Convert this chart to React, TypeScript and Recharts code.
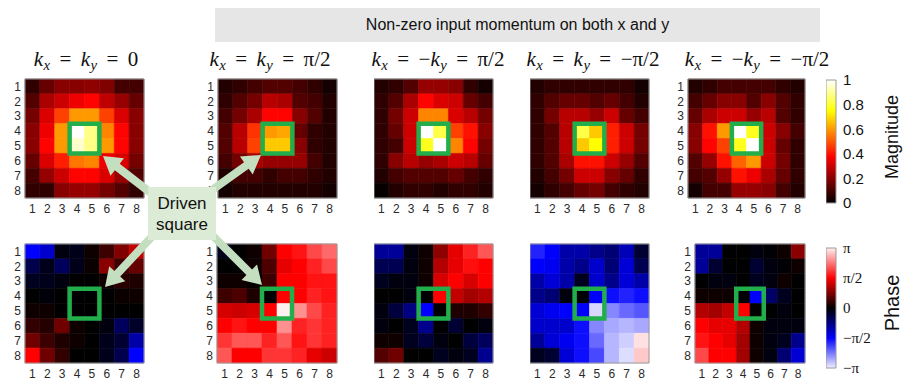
import React from 'react';
import { ScatterChart, Scatter, XAxis, YAxis, ReferenceArea } from 'recharts';

const colTicks = [1, 2, 3, 4, 5, 6, 7, 8];
const rowTicks = [1, 2, 3, 4, 5, 6, 7, 8];

// Magnitude (0..1), rows top->bottom, columns left->right
const magK0 = [
  [0.07, 0.15, 0.2, 0.2, 0.21, 0.19, 0.1, 0.1],
  [0.12, 0.25, 0.3, 0.35, 0.38, 0.28, 0.22, 0.15],
  [0.17, 0.32, 0.47, 0.6, 0.6, 0.47, 0.32, 0.2],
  [0.2, 0.35, 0.6, 1.0, 0.88, 0.57, 0.38, 0.2],
  [0.2, 0.38, 0.6, 0.95, 0.88, 0.6, 0.38, 0.2],
  [0.15, 0.32, 0.42, 0.55, 0.57, 0.35, 0.32, 0.17],
  [0.1, 0.22, 0.3, 0.38, 0.38, 0.32, 0.22, 0.12],
  [0.07, 0.07, 0.2, 0.22, 0.22, 0.17, 0.12, 0.07],
];
const magPP = [
  [0.05, 0.07, 0.1, 0.12, 0.12, 0.1, 0.07, 0.03],
  [0.07, 0.12, 0.17, 0.27, 0.25, 0.12, 0.1, 0.05],
  [0.1, 0.17, 0.25, 0.38, 0.38, 0.2, 0.12, 0.05],
  [0.12, 0.27, 0.45, 0.6, 0.62, 0.15, 0.07, 0.05],
  [0.12, 0.27, 0.47, 0.67, 0.67, 0.2, 0.07, 0.05],
  [0.1, 0.17, 0.25, 0.22, 0.22, 0.22, 0.1, 0.05],
  [0.05, 0.1, 0.1, 0.07, 0.1, 0.1, 0.07, 0.05],
  [0.03, 0.05, 0.05, 0.05, 0.05, 0.05, 0.05, 0.03],
];
const magPM = [
  [0.05, 0.07, 0.12, 0.22, 0.22, 0.2, 0.07, 0.03],
  [0.07, 0.12, 0.25, 0.38, 0.32, 0.3, 0.15, 0.1],
  [0.07, 0.17, 0.3, 0.57, 0.57, 0.32, 0.27, 0.17],
  [0.07, 0.15, 0.3, 1.0, 0.82, 0.47, 0.4, 0.2],
  [0.07, 0.1, 0.3, 0.78, 1.0, 0.57, 0.38, 0.17],
  [0.07, 0.2, 0.27, 0.22, 0.25, 0.3, 0.27, 0.15],
  [0.05, 0.1, 0.12, 0.12, 0.12, 0.15, 0.1, 0.07],
  [0.01, 0.05, 0.07, 0.07, 0.05, 0.07, 0.07, 0.05],
];
const magMM = [
  [0.05, 0.07, 0.07, 0.07, 0.07, 0.07, 0.07, 0.03],
  [0.07, 0.12, 0.15, 0.15, 0.12, 0.15, 0.1, 0.05],
  [0.07, 0.17, 0.27, 0.27, 0.22, 0.3, 0.15, 0.1],
  [0.07, 0.12, 0.27, 0.82, 0.67, 0.42, 0.3, 0.17],
  [0.07, 0.12, 0.27, 0.67, 0.75, 0.42, 0.3, 0.17],
  [0.07, 0.12, 0.25, 0.4, 0.4, 0.3, 0.22, 0.12],
  [0.05, 0.1, 0.17, 0.3, 0.3, 0.2, 0.15, 0.07],
  [0.03, 0.07, 0.1, 0.15, 0.17, 0.1, 0.07, 0.05],
];
const magMP = [
  [0.05, 0.07, 0.1, 0.1, 0.1, 0.1, 0.07, 0.05],
  [0.1, 0.15, 0.2, 0.2, 0.12, 0.2, 0.12, 0.07],
  [0.15, 0.25, 0.3, 0.3, 0.22, 0.27, 0.12, 0.07],
  [0.2, 0.4, 0.6, 1.0, 0.78, 0.3, 0.2, 0.1],
  [0.2, 0.38, 0.47, 0.78, 1.0, 0.3, 0.15, 0.07],
  [0.12, 0.22, 0.4, 0.52, 0.6, 0.3, 0.17, 0.07],
  [0.1, 0.12, 0.22, 0.4, 0.35, 0.25, 0.15, 0.07],
  [0.03, 0.1, 0.1, 0.22, 0.22, 0.2, 0.1, 0.05],
];

// Phase in units of pi (-1..1)
const phaseK0 = [
  [-0.5, -0.4, -0.03, -0.05, 0.03, 0.12, 0.25, 0.38],
  [-0.15, -0.05, -0.18, -0.05, 0.02, 0.27, 0.12, 0.2],
  [-0.06, -0.05, -0.03, 0, 0, 0.03, 0.08, 0.06],
  [0, -0.02, 0, 0, 0, 0, 0.02, 0.03],
  [0.03, 0.03, 0, 0, 0, 0, 0, 0],
  [0.1, 0.07, 0.22, 0.03, 0, -0.03, -0.18, -0.08],
  [0.22, 0.12, 0.06, 0.03, 0, -0.05, -0.1, -0.33],
  [0.5, 0.22, 0.1, 0, 0, -0.05, -0.15, -0.5],
];
const phasePP = [
  [-0.05, 0, 0.03, 0.22, 0.5, 0.54, 0.65, 0.72],
  [0, 0, 0.03, 0.15, 0.45, 0.5, 0.57, 0.65],
  [0.03, 0.03, 0.01, 0.12, 0.5, 0.5, 0.54, 0.54],
  [0.12, 0.15, 0.06, 0, 0.5, 0.5, 0.57, 0.54],
  [0.42, 0.4, 0.42, 0.5, 1.0, 0.8, 0.65, 0.57],
  [0.5, 0.54, 0.5, 0.5, 0.8, 0.57, 0.61, 0.57],
  [0.61, 0.68, 0.68, 0.57, 0.68, 0.54, 0.61, 0.57],
  [0.68, 0.5, 0.5, 0.61, 0.61, 0.57, 0.45, 0.4],
];
const phasePM = [
  [-0.3, -0.3, -0.03, 0.03, 0.28, 0.45, 0.57, 0.68],
  [-0.16, -0.16, -0.03, 0.03, 0.35, 0.45, 0.53, 0.5],
  [-0.06, -0.03, -0.03, 0.03, 0.42, 0.5, 0.42, 0.5],
  [0, 0, -0.03, 0, 0.5, 0.38, 0.32, 0.35],
  [-0.03, -0.12, -0.25, -0.5, 0, 0.06, 0.06, 0.1],
  [-0.03, 0, -0.06, -0.28, 0, -0.1, 0, -0.03],
  [0.03, 0.03, -0.06, -0.12, -0.03, 0, -0.12, -0.18],
  [0.16, 0.22, 0, 0, -0.06, -0.03, -0.06, -0.28],
];
const phaseMM = [
  [-0.57, -0.5, -0.33, -0.33, -0.27, -0.23, -0.36, -0.1],
  [-0.5, -0.47, -0.33, -0.27, -0.4, -0.23, -0.42, -0.16],
  [-0.33, -0.42, -0.33, -0.06, -0.4, -0.27, -0.42, -0.33],
  [-0.27, -0.23, -0.03, 0, -0.5, -0.53, -0.57, -0.53],
  [-0.42, -0.47, -0.5, -0.5, -0.95, -0.78, -0.72, -0.68],
  [-0.4, -0.4, -0.4, -0.53, -0.78, -0.85, -0.88, -0.85],
  [-0.3, -0.42, -0.47, -0.53, -0.72, -0.88, -0.93, 0.97],
  [-0.06, -0.1, -0.42, -0.53, -0.65, -0.88, -0.96, 0.92],
];
const phaseMP = [
  [-0.3, -0.3, 0, 0, -0.03, -0.01, 0.03, 0.27],
  [-0.3, -0.1, 0, 0, -0.1, -0.03, -0.01, 0.03],
  [0, -0.03, -0.03, 0, -0.06, -0.03, 0.03, 0],
  [0.03, 0.03, 0.03, 0, -0.5, -0.2, -0.06, 0],
  [0.35, 0.32, 0.38, 0.5, 0, 0, -0.03, 0],
  [0.5, 0.45, 0.45, 0.35, 0.03, -0.03, -0.03, -0.03],
  [0.54, 0.5, 0.45, 0.32, 0.03, -0.03, -0.06, -0.27],
  [0.65, 0.5, 0.5, 0.32, 0.03, -0.03, -0.22, -0.42],
];

const magTicks = [0, 0.2, 0.4, 0.6, 0.8, 1];
const phaseTicks = [-1, -0.5, 0, 0.5, 1];
const phaseTickLabels: Record<string, string> = { '-1': '−π', '-0.5': '−π/2', '0': '0', '0.5': 'π/2', '1': 'π' };

const bannerText = 'Non-zero input momentum on both x and y';
const drivenText = ['Driven', 'square'];

const SANS = '"Liberation Sans", Arial, Helvetica, sans-serif';
const SERIF = '"Liberation Serif", "Times New Roman", serif';

const clamp = (v: number) => Math.max(0, Math.min(1, v));
const hex = (r: number, g: number, b: number) =>
  '#' + [r, g, b].map((c) => Math.round(clamp(c) * 255).toString(16).padStart(2, '0')).join('');

function hot(v: number) {
  return hex(v / 0.375, (v - 0.375) / 0.375, (v - 0.75) / 0.25);
}
function phaseColor(t: number) {
  const a = Math.abs(t);
  const main = a <= 0.5 ? a / 0.5 : 1;
  const other = a <= 0.5 ? 0 : (a - 0.5) * 2 * 0.94;
  return t >= 0 ? hex(main, other, other) : hex(other, other, main);
}

type HeatProps = {
  values: number[][];
  color: (v: number) => string;
  left: number;
  top: number;
  w: number;
  h: number;
  showY: boolean;
};

function Heatmap({ values, color, left, top, w, h, showY }: HeatProps) {
  const yw = showY ? 16 : 0;
  const cells: { x: number; y: number; v: number }[] = [];
  values.forEach((row, ri) => row.forEach((v, ci) => cells.push({ x: ci + 1, y: ri + 1, v })));
  const tickStyle = { fontSize: 12, fill: '#2a2a2a', fontFamily: SANS };
  return (
    <div style={{ position: 'absolute', left: left - yw, top: top - 2 }}>
      <ScatterChart width={w + yw + 2} height={h + 24} margin={{ top: 2, right: 2, bottom: 0, left: 0 }}>
        <XAxis
          type="number"
          dataKey="x"
          domain={[0.5, 8.5]}
          ticks={colTicks}
          interval={0}
          tickLine={false}
          axisLine={false}
          height={22}
          tickSize={4}
          tickMargin={2}
          tick={tickStyle}
          allowDataOverflow
        />
        <YAxis
          type="number"
          dataKey="y"
          domain={[0.5, 8.5]}
          reversed
          ticks={rowTicks}
          interval={0}
          tickLine={false}
          axisLine={false}
          width={yw}
          hide={!showY}
          tickSize={2}
          tickMargin={2}
          tick={tickStyle}
          allowDataOverflow
        />
        {cells.map((c) => (
          <ReferenceArea
            key={`${c.x}-${c.y}`}
            x1={c.x - 0.5}
            x2={c.x + 0.5}
            y1={c.y - 0.5}
            y2={c.y + 0.5}
            fill={color(c.v)}
            fillOpacity={1}
            stroke={color(c.v)}
            strokeWidth={0.6}
          />
        ))}
        <ReferenceArea x1={0.5} x2={8.5} y1={0.5} y2={8.5} fill="none" stroke="#9a9a9a" strokeWidth={1} />
        <ReferenceArea x1={3.5} x2={5.5} y1={3.5} y2={5.5} fill="none" stroke="#22ae4a" strokeWidth={4.5} />
        <Scatter data={cells} isAnimationActive={false} shape={() => <g />} />
      </ScatterChart>
    </div>
  );
}

type BarProps = {
  left: number;
  top: number;
  h: number;
  domain: [number, number];
  ticks: number[];
  fmt: (v: number) => string;
  grad: string;
  stops: { o: number; c: string }[];
  font: string;
  fontSize: number;
};

function Colorbar({ left, top, h, domain, ticks, fmt, grad, stops, font, fontSize }: BarProps) {
  return (
    <div style={{ position: 'absolute', left, top: top - 10 }}>
      <ScatterChart width={62} height={h + 20} margin={{ top: 10, right: 0, bottom: 10, left: 0 }}>
        <defs>
          <linearGradient id={grad} x1="0" y1="1" x2="0" y2="0">
            {stops.map((s) => (
              <stop key={s.o} offset={s.o} stopColor={s.c} />
            ))}
          </linearGradient>
        </defs>
        <XAxis type="number" dataKey="x" domain={[0, 1]} hide allowDataOverflow />
        <YAxis
          type="number"
          dataKey="y"
          orientation="right"
          domain={domain}
          ticks={ticks}
          interval={0}
          width={52}
          tickLine={false}
          axisLine={false}
          tickSize={5}
          tickMargin={2}
          tickFormatter={fmt}
          tick={{ fontSize, fill: '#111', fontFamily: font }}
          allowDataOverflow
        />
        <ReferenceArea x1={0} x2={1} y1={domain[0]} y2={domain[1]} fill={`url(#${grad})`} fillOpacity={1} stroke="#9a9a9a" strokeWidth={1} />
        <Scatter data={[{ x: 0.5, y: domain[0] }]} isAnimationActive={false} shape={() => <g />} />
      </ScatterChart>
    </div>
  );
}

const topY = 79;
const botY = 244;
const cellH = 119;
const topPanels = [
  { x: 25, w: 119, showY: true, values: magK0 },
  { x: 218, w: 119, showY: true, values: magPP },
  { x: 374, w: 119, showY: false, values: magPM },
  { x: 530, w: 119, showY: false, values: magMM },
  { x: 688, w: 117, showY: true, values: magMP },
];
const botPanels = [
  { x: 25, w: 119, showY: true, values: phaseK0 },
  { x: 217, w: 120, showY: true, values: phasePP },
  { x: 374, w: 119, showY: false, values: phasePM },
  { x: 530, w: 119, showY: false, values: phaseMM },
  { x: 695, w: 110, showY: true, values: phaseMP },
];

const Sub = ({ c }: { c: string }) => (
  <span style={{ fontSize: '0.7em', fontStyle: 'italic', position: 'relative', top: '0.3em', marginLeft: '0.03em' }}>{c}</span>
);
const K = ({ c }: { c: string }) => (
  <>
    <i>k</i>
    <Sub c={c} />
  </>
);
const Eq = () => <span style={{ margin: '0 0.45em' }}>=</span>;

const titles = [
  { cx: 86, node: (<><K c="x" /><Eq /><K c="y" /><Eq />0</>) },
  { cx: 270, node: (<><K c="x" /><Eq /><K c="y" /><Eq />π/2</>) },
  { cx: 438, node: (<><K c="x" /><Eq />−<K c="y" /><Eq />π/2</>) },
  { cx: 593, node: (<><K c="x" /><Eq /><K c="y" /><Eq />−π/2</>) },
  { cx: 757, node: (<><K c="x" /><Eq />−<K c="y" /><Eq />−π/2</>) },
];

function Arrow({ x1, y1, x2, y2, color }: { x1: number; y1: number; x2: number; y2: number; color: string }) {
  const dx = x2 - x1;
  const dy = y2 - y1;
  const L = Math.hypot(dx, dy);
  const ux = dx / L;
  const uy = dy / L;
  const nx = -uy;
  const ny = ux;
  const hl = 18;
  const hw = 11;
  const sw = 4;
  const bx = x2 - ux * hl;
  const by = y2 - uy * hl;
  const pts = [
    [x1 + nx * sw, y1 + ny * sw],
    [bx + nx * sw, by + ny * sw],
    [bx + nx * hw, by + ny * hw],
    [x2, y2],
    [bx - nx * hw, by - ny * hw],
    [bx - nx * sw, by - ny * sw],
    [x1 - nx * sw, y1 - ny * sw],
  ]
    .map((p) => p.join(','))
    .join(' ');
  return <polygon points={pts} fill={color} />;
}

const arrowColor = '#c3dfbf';
const arrows = [
  { x1: 160, y1: 200, x2: 103, y2: 156 },
  { x1: 205, y1: 195, x2: 261, y2: 155 },
  { x1: 160, y1: 228, x2: 105, y2: 287 },
  { x1: 205, y1: 228, x2: 262, y2: 285 },
];

export default function App() {
  return (
    <div style={{ position: 'absolute', left: 0, top: 0, width: 904, height: 381, background: '#fff', overflow: 'hidden' }}>
      <div
        style={{
          position: 'absolute',
          left: 215,
          top: 8,
          width: 605,
          height: 34,
          background: '#e6e6e6',
          fontFamily: SANS,
          fontSize: 16,
          color: '#111',
          display: 'flex',
          alignItems: 'center',
          justifyContent: 'center',
        }}
      >
        {bannerText}
      </div>
      {titles.map((t, i) => (
        <div
          key={i}
          style={{
            position: 'absolute',
            left: t.cx,
            top: 48,
            transform: 'translateX(-50%)',
            whiteSpace: 'nowrap',
            fontFamily: SERIF,
            fontSize: 21,
            color: '#111',
            lineHeight: '22px',
          }}
        >
          {t.node}
        </div>
      ))}
      {topPanels.map((p, i) => (
        <Heatmap key={`t${i}`} values={p.values} color={hot} left={p.x} top={topY} w={p.w} h={cellH} showY={p.showY} />
      ))}
      {botPanels.map((p, i) => (
        <Heatmap key={`b${i}`} values={p.values} color={phaseColor} left={p.x} top={botY} w={p.w} h={cellH} showY={p.showY} />
      ))}
      <Colorbar
        left={826}
        top={80}
        h={123}
        domain={[0, 1]}
        ticks={magTicks}
        fmt={(v) => String(v)}
        grad="magGrad"
        stops={[
          { o: 0, c: '#000000' },
          { o: 0.375, c: '#ff0000' },
          { o: 0.75, c: '#ffff00' },
          { o: 1, c: '#ffffff' },
        ]}
        font={SANS}
        fontSize={15}
      />
      <Colorbar
        left={826}
        top={248}
        h={120}
        domain={[-1, 1]}
        ticks={phaseTicks}
        fmt={(v) => phaseTickLabels[String(v)]}
        grad="phaseGrad"
        stops={[
          { o: 0, c: '#efefff' },
          { o: 0.25, c: '#0000ff' },
          { o: 0.5, c: '#000000' },
          { o: 0.75, c: '#ff0000' },
          { o: 1, c: '#ffefef' },
        ]}
        font={SERIF}
        fontSize={15}
      />
      <div
        style={{
          position: 'absolute',
          left: 892,
          top: 137,
          transform: 'translate(-50%, -50%) rotate(-90deg)',
          fontFamily: SANS,
          fontSize: 18,
          color: '#111',
          whiteSpace: 'nowrap',
        }}
      >
        Magnitude
      </div>
      <div
        style={{
          position: 'absolute',
          left: 892,
          top: 303,
          transform: 'translate(-50%, -50%) rotate(-90deg)',
          fontFamily: SANS,
          fontSize: 20,
          color: '#111',
          whiteSpace: 'nowrap',
        }}
      >
        Phase
      </div>
      <svg width={904} height={381} style={{ position: 'absolute', left: 0, top: 0, pointerEvents: 'none' }}>
        {arrows.map((a, i) => (
          <Arrow key={i} {...a} color={arrowColor} />
        ))}
        <rect x={148} y={187} width={68} height={53} fill="#dbebd6" />
        {drivenText.map((t, i) => (
          <text key={t} x={182} y={209 + i * 21} textAnchor="middle" fontFamily={SANS} fontSize={17} fill="#111">
            {t}
          </text>
        ))}
      </svg>
    </div>
  );
}
